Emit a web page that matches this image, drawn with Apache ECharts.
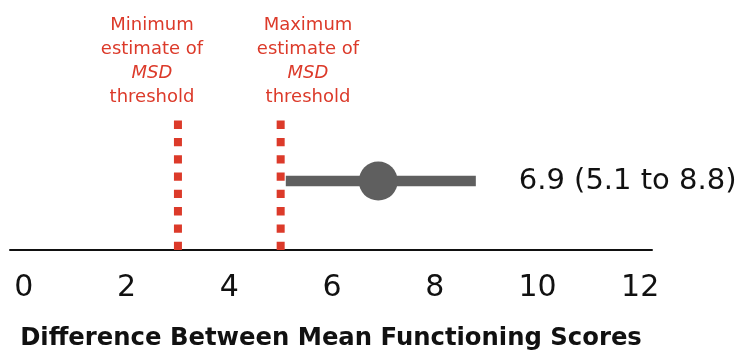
<!DOCTYPE html>
<html>
<head>
<meta charset="utf-8">
<script src="https://cdn.jsdelivr.net/npm/echarts@6/dist/echarts.min.js"></script>
<style>html,body{margin:0;padding:0;background:#fff;}#c{width:740px;height:352px;}</style>
</head>
<body>
<div id="c"></div>
<script>
// ---- data ----
const tickValues = [0, 2, 4, 6, 8, 10, 12];
const thresholdNames = ['Minimum', 'Maximum'];
const thresholdValues = [3, 5];
const estimate = 6.9;
const ciLow = 5.1;
const ciHigh = 8.8;
const axisTitle = 'Difference Between Mean Functioning Scores';

const RED = '#dc3a2a';
const GREY = '#5f5f5f';
const FONT = 'DejaVu Sans';
const rowY = 0.53;

const chart = echarts.init(document.getElementById('c'));

const series = [];
thresholdValues.forEach(function (v, i) {
  series.push({
    type: 'line',
    name: thresholdNames[i],
    data: [[v, 0], [v, 1]],
    symbol: 'none',
    silent: true,
    lineStyle: { color: RED, width: 8, type: [8.3, 9], cap: 'butt' },
    z: 2
  });
});
series.push({
  type: 'line',
  data: [[ciLow, rowY], [ciHigh, rowY]],
  symbol: 'none',
  silent: true,
  lineStyle: { color: GREY, width: 10.5, cap: 'butt' },
  z: 3
});
series.push({
  type: 'scatter',
  data: [[estimate, rowY]],
  symbolSize: 39,
  itemStyle: { color: GREY, opacity: 1 },
  z: 4,
  label: {
    show: true,
    position: 'right',
    distance: 121,
    formatter: estimate.toFixed(1) + ' (' + ciLow.toFixed(1) + ' to ' + ciHigh.toFixed(1) + ')',
    fontFamily: FONT,
    fontSize: 29,
    color: '#111'
  }
});

function annot(name, x) {
  return {
    type: 'text',
    x: x,
    y: 13,
    style: {
      text: name + '\nestimate of\n{i|MSD}\nthreshold',
      rich: { i: { fontStyle: 'italic', fontFamily: FONT, fontSize: 18, fill: RED, lineHeight: 24 } },
      fill: RED,
      fontFamily: FONT,
      fontSize: 18,
      lineHeight: 24,
      align: 'center',
      verticalAlign: 'top'
    }
  };
}

chart.setOption({
  animation: false,
  backgroundColor: '#fff',
  grid: { left: 10, right: 88, top: 120, bottom: 102, outerBoundsMode: 'none', containLabel: false },
  xAxis: {
    type: 'value',
    min: -0.27,
    max: 12.23,
    axisLine: { show: true, lineStyle: { color: '#111', width: 2 } },
    axisTick: { show: false },
    splitLine: { show: false },
    axisLabel: {
      customValues: tickValues,
      fontFamily: FONT,
      fontSize: 30,
      color: '#111',
      verticalAlign: 'middle',
      margin: 38
    },
    name: axisTitle,
    nameLocation: 'middle',
    nameGap: 89,
    nameTextStyle: { fontFamily: FONT, fontSize: 24.3, fontWeight: 'bold', color: '#111', verticalAlign: 'middle' }
  },
  yAxis: { type: 'value', min: 0, max: 1, show: false },
  series: series,
  graphic: [annot(thresholdNames[0], 152), annot(thresholdNames[1], 308)]
});
</script>
</body>
</html>
